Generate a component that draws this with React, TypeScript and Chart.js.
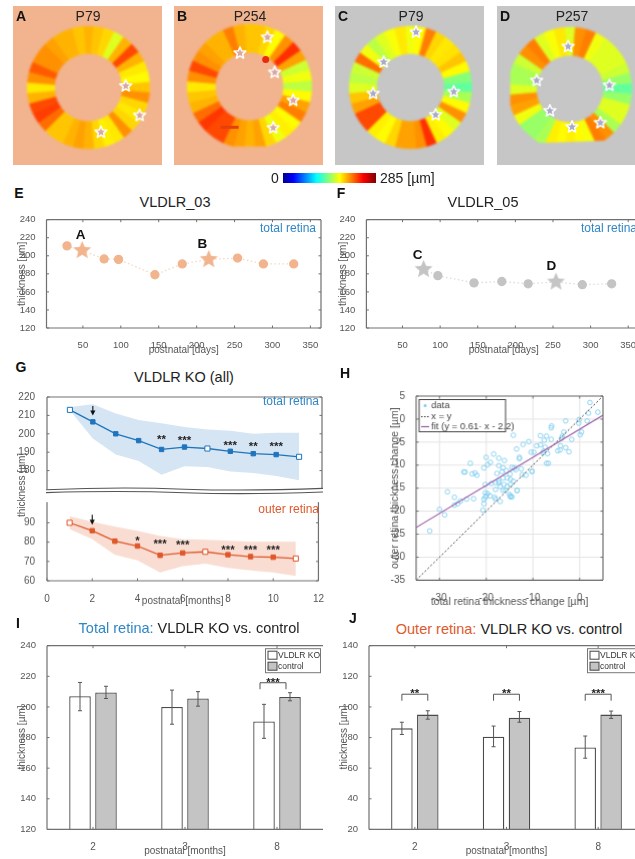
import React, { useEffect, useRef } from "react";
import { Chart, registerables } from "chart.js";

Chart.register(...registerables);

const FONT = '"Liberation Sans", Arial, sans-serif';
const GRAY = "#555555";
const BLUE = "#2f86c5";
const ORANGE = "#dd5a2c";

// ---------- data ----------
const ringA = [195, 190, 185, 165, 195, 225, 195, 180, 175, 190, 205, 185, 180, 185, 205, 180, 178, 185, 195, 200, 195, 190, 190, 215, 228, 225, 195, 180, 205, 220, 205, 205, 200, 195, 195, 190];
const ringB = [190, 190, 185, 175, 205, 232, 200, 160, 170, 155, 175, 200, 210, 175, 178, 170, 185, 200, 195, 200, 205, 225, 225, 230, 215, 195, 190, 180, 205, 225, 205, 200, 195, 195, 210, 195];
const ringC = [170, 175, 210, 185, 180, 182, 190, 175, 140, 130, 150, 175, 205, 165, 175, 178, 232, 205, 200, 200, 185, 175, 178, 225, 225, 200, 190, 165, 155, 160, 215, 170, 155, 165, 172, 180];
const ringD = [165, 205, 210, 170, 165, 165, 165, 160, 145, 130, 145, 165, 165, 150, 205, 210, 172, 175, 178, 175, 178, 150, 145, 145, 170, 200, 205, 165, 150, 150, 160, 205, 210, 165, 172, 180];

const starsAX = [116.7, 132, 89.3];
const starsAY = [80, 112.3, 130.7];
const starsBX = [97, 64.3, 105.7, 127.7, 104];
const starsBY = [22.7, 41.3, 64, 97, 129.3];
const starsCX = [81.7, 46, 34.3, 123.3, 103.3];
const starsCY = [21, 53.7, 88.3, 86.3, 111.7];
const starsDX = [71.3, 36.3, 51, 75.7, 107.3, 117.3];
const starsDY = [36.7, 74, 107.3, 125, 120.3, 79.3];

const jetStops = ["#00008f", "#0000ff", "#00ffff", "#ffff00", "#ff0000", "#800000"];
const jetPositions = [0, 0.11, 0.36, 0.61, 0.86, 1];
const colorbarMax = [285];

const daysE = [29, 49, 78, 97, 145, 181, 216, 254, 288, 328];
const thickE = [211, 206, 196.5, 196, 179, 191, 196, 197.5, 191, 191];
const starIndexE = [1, 6];
const labelsE = ["A", "B"];
const labelXE = [47, 207.5];
const labelYE = [222.7, 213.3];

const daysF = [78, 97, 145, 182, 217, 254, 289, 328];
const thickF = [185, 178, 170, 171.5, 169, 171, 168, 169];
const starIndexF = [0, 5];
const labelsF = ["C", "D"];
const labelXF = [70, 248];
const labelYF = [201, 188];

const months = [1, 2, 3, 4, 5, 6, 7, 8, 9, 10, 11];
const totalMean = [213, 206.5, 200, 196.3, 191.5, 192.8, 192, 190.5, 189.2, 188.7, 187.5];
const totalHigh = [214.5, 216, 211, 207.5, 205.7, 203.7, 202.4, 201.6, 200, 200.6, 200.6];
const totalLow = [212.7, 197.5, 188.8, 185.2, 177.7, 182.3, 182, 179.5, 178.7, 177, 174.8];
const outerMean = [90, 85.9, 80.5, 78, 73.2, 74.4, 75, 73.5, 72.5, 72.2, 71.5];
const outerHigh = [93.4, 90.5, 88, 85.8, 83.2, 81.5, 81.2, 80.7, 80.2, 80.2, 80.2];
const outerLow = [86.7, 81.5, 73.4, 70.6, 64.3, 67.6, 68.9, 66.6, 65.3, 64.3, 62.5];
const hollowMonths = [1, 7, 11];

const sigTotalX = [5, 6, 8, 9, 10];
const sigTotalY = [198, 197.6, 194.8, 194.3, 194.6];
const sigTotalText = ["**", "***", "***", "**", "***"];
const sigOuterX = [4, 5, 6, 8, 9, 10];
const sigOuterY = [81.9, 80.6, 80, 77.2, 77, 77.2];
const sigOuterText = ["*", "***", "***", "***", "***", "***"];

const totalChange = [2.2, 3.9, 1.9, 1.6, -0.1, -0.2, 0.4, 0.1, -1.7, -3, -3.4, -3.7, -3.9, -6, -6.1, -8.4, -7.1, -7.6, -6.1, -14.2, -10.9, -12.1, -13.5, -9.2, -8.4, -7.4, -10.4, -9.8, -7.7, -7.9, -6.9, -4.1, -3, -4.7, -4.2, -2.3, -7.1, -6.7, -12.9, -12.9, -10.2, -14, -12.5, -18.4, -20, -17.3, -16.1, -19.1, -19.7, -20.5, -17.3, -16.4, -23.4, -24.5, -24.8, -23, -22.4, -22, -17.7, -16.6, -15.7, -14.5, -13.7, -14.9, -20.2, -18, -17.3, -16.4, -15.5, -14.8, -17, -16.2, -15.5, -14.8, -14.2, -18, -16.4, -15.9, -13.4, -20.2, -19.7, -19.2, -20, -20.5, -20.2, -18.2, -18, -17, -15, -14.8, -14.5, -20.5, -20.7, -22.7, -24.2, -26.8, -25.5, -26.8, -26.1, -28.3, -30, -28.9, -32.1, -17.3, -18.9, -11.5, -10.2, -12.3, -13.4, -14.8];
const outerChange = [3.6, 1.5, 1.3, -0.4, -0.1, -0.9, -2.8, -3.4, -4.4, -0.4, -2.8, -3.7, -4.2, -1.5, -1.9, -3.6, -3.7, -4.6, -4.4, -3.5, -4.9, -5.5, -6.5, -5.8, -5.6, -6.1, -7.2, -7.2, -7, -7.3, -7.5, -5.8, -6.2, -6.9, -6.7, -7.1, -9.6, -9.6, -8.3, -8.6, -11.3, -10.6, -10.8, -7.6, -8.3, -8.5, -9, -9.4, -9.9, -10.6, -10.1, -10.6, -9.6, -11.5, -11.5, -11.9, -11.7, -12.2, -11.8, -11.4, -11.2, -10.5, -11, -11.9, -14.2, -13.8, -13.5, -12.8, -12.8, -13.1, -14.6, -14.2, -14.6, -14.2, -13.5, -15.3, -15.5, -15.5, -15.5, -16, -16.2, -16.7, -16.7, -17.4, -17, -17, -17.4, -17.9, -16.4, -16.9, -16.9, -18.4, -19.8, -17.3, -17.4, -17, -17.8, -18.7, -18.4, -15.8, -19.6, -20.8, -24.3, -13.9, -14, -12.2, -11.4, -12.1, -15.5, -16.7];
const diagX = [-35, 5];
const diagY = [-35, 5];
const fitX = [-35, 5];
const fitY = [-23.55, 0.85];

const barCategories = ["2", "3", "8"];
const totalKO = [207, 200, 190.5];
const totalKOLow = [197.5, 188.7, 179.5];
const totalKOHigh = [216, 211, 201.7];
const totalCtrl = [209.5, 205.5, 206.5];
const totalCtrlLow = [205.5, 200.5, 204];
const totalCtrlHigh = [213.5, 210, 209.3];
const outerKO = [86, 80.5, 73.5];
const outerKOLow = [82, 74, 66.5];
const outerKOHigh = [90, 87.5, 81];
const outerCtrl = [95, 93, 95];
const outerCtrlLow = [92, 90, 92.5];
const outerCtrlHigh = [97.5, 97, 97.3];
const bracketsTotal = [2];
const bracketTextTotal = ["***"];
const bracketsOuter = [0, 1, 2];
const bracketTextOuter = ["**", "**", "***"];

// ---------- helpers ----------
function jet(v: number, max = 285) {
  const t = Math.min(1, Math.max(0, v / max));
  let i = 0;
  while (i < jetPositions.length - 2 && t > jetPositions[i + 1]) i++;
  const f = (t - jetPositions[i]) / (jetPositions[i + 1] - jetPositions[i]);
  const hex = (s: string, k: number) => parseInt(s.slice(1 + k * 2, 3 + k * 2), 16);
  const c = [0, 1, 2].map((k) => Math.round(hex(jetStops[i], k) + f * (hex(jetStops[i + 1], k) - hex(jetStops[i], k))));
  return `rgb(${c[0]},${c[1]},${c[2]})`;
}

function starImage(r: number, fill: string, stroke: string | null, lw: number) {
  const pad = 2 + lw;
  const c = document.createElement("canvas");
  c.width = c.height = Math.ceil(2 * (r + pad));
  const g = c.getContext("2d")!;
  const m = c.width / 2;
  g.beginPath();
  for (let i = 0; i < 10; i++) {
    const rr = i % 2 === 0 ? r : r * 0.45;
    const a = -Math.PI / 2 + (i * Math.PI) / 5;
    const x = m + rr * Math.cos(a);
    const y = m + rr * Math.sin(a);
    if (i === 0) g.moveTo(x, y);
    else g.lineTo(x, y);
  }
  g.closePath();
  g.fillStyle = fill;
  g.fill();
  if (stroke) {
    g.lineJoin = "round";
    g.strokeStyle = stroke;
    g.lineWidth = lw;
    g.stroke();
  }
  return c;
}

type Sides = { left?: boolean; right?: boolean; top?: boolean; bottom?: boolean };

function boxAxes(sides: Sides, gridLines = false) {
  return {
    id: "boxAxes",
    beforeDatasetsDraw(chart: any) {
      if (!gridLines) return;
      const { ctx, chartArea: a, scales } = chart;
      ctx.save();
      ctx.strokeStyle = "#e4e4e4";
      ctx.lineWidth = 1;
      scales.x.ticks.forEach((_: any, i: number) => {
        const p = scales.x.getPixelForTick(i);
        ctx.beginPath();
        ctx.moveTo(p, a.top);
        ctx.lineTo(p, a.bottom);
        ctx.stroke();
      });
      scales.y.ticks.forEach((_: any, i: number) => {
        const p = scales.y.getPixelForTick(i);
        ctx.beginPath();
        ctx.moveTo(a.left, p);
        ctx.lineTo(a.right, p);
        ctx.stroke();
      });
      ctx.restore();
    },
    afterDatasetsDraw(chart: any) {
      const { ctx, chartArea: a, scales } = chart;
      ctx.save();
      ctx.strokeStyle = "#707070";
      ctx.lineWidth = 1.2;
      ctx.beginPath();
      if (sides.left) { ctx.moveTo(a.left, a.top); ctx.lineTo(a.left, a.bottom); }
      if (sides.right) { ctx.moveTo(a.right, a.top); ctx.lineTo(a.right, a.bottom); }
      if (sides.top) { ctx.moveTo(a.left, a.top); ctx.lineTo(a.right, a.top); }
      if (sides.bottom) { ctx.moveTo(a.left, a.bottom); ctx.lineTo(a.right, a.bottom); }
      ctx.stroke();
      const len = 2.5;
      ctx.lineWidth = 1;
      ctx.beginPath();
      if (scales.x.options.display !== false) {
        scales.x.ticks.forEach((_: any, i: number) => {
          const p = scales.x.getPixelForTick(i);
          if (sides.bottom) { ctx.moveTo(p, a.bottom); ctx.lineTo(p, a.bottom - len); }
          if (sides.top) { ctx.moveTo(p, a.top); ctx.lineTo(p, a.top + len); }
        });
      }
      scales.y.ticks.forEach((_: any, i: number) => {
        const p = scales.y.getPixelForTick(i);
        if (sides.left) { ctx.moveTo(a.left, p); ctx.lineTo(a.left + len, p); }
        if (sides.right) { ctx.moveTo(a.right, p); ctx.lineTo(a.right - len, p); }
      });
      ctx.stroke();
      ctx.restore();
    },
  };
}

type Frame = { left: number; top: number; width: number; height: number; gutterL: number; gutterB: number; padT: number; padR: number };

function frame(plotL: number, plotT: number, plotW: number, plotH: number, gutterL: number, gutterB: number): Frame {
  const padT = 6;
  const padR = 6;
  return { left: plotL - gutterL, top: plotT - padT, width: gutterL + plotW + padR, height: padT + plotH + gutterB, gutterL, gutterB, padT, padR };
}

function axisTitle(text: string, size = 10) {
  return { display: true, text, color: GRAY, font: { family: FONT, size }, padding: 0 };
}

function tickStyle(size: number, padding: number) {
  return { color: GRAY, font: { family: FONT, size }, padding, autoSkip: false, maxRotation: 0, includeBounds: false };
}

function baseOptions(f: Frame) {
  return {
    responsive: false,
    animation: false as const,
    devicePixelRatio: 1,
    events: [],
    layout: { padding: { top: f.padT, right: f.padR, left: 0, bottom: 0 } },
    plugins: { legend: { display: false }, tooltip: { enabled: false } },
  };
}

function xFit(f: Frame) {
  return (s: any) => { s.height = f.gutterB; };
}
function yFit(f: Frame) {
  return (s: any) => { s.width = f.gutterL; };
}

// ---------- ring panels ----------
function ringConfig(values: number[], holeRatio: number, clip?: (g: CanvasRenderingContext2D) => void) {
  return {
    type: "doughnut",
    data: {
      labels: values.map((_, i) => `${i * 10}°`),
      datasets: [{
        data: values.map(() => 1),
        backgroundColor: values.map((v) => jet(v)),
        borderColor: values.map((v) => jet(v)),
        borderWidth: 0.8,
      }],
    },
    options: {
      responsive: false,
      animation: false,
      devicePixelRatio: 1,
      events: [],
      cutout: `${holeRatio * 100}%`,
      rotation: -5,
      layout: { padding: 4 },
      plugins: { legend: { display: false }, tooltip: { enabled: false } },
    },
    plugins: [{
      id: "ringClip",
      beforeDatasetsDraw(chart: any) {
        chart.ctx.save();
        if (clip) clip(chart.ctx);
      },
      afterDatasetsDraw(chart: any) {
        chart.ctx.restore();
      },
    }],
  };
}

function starOverlayConfig(xs: number[], ys: number[], fill: string, w: number, h: number, hot?: any[]) {
  const img = starImage(6.2, fill, "#ffffff", 1.5);
  return {
    type: "scatter",
    data: {
      datasets: [
        { data: xs.map((x, i) => ({ x, y: ys[i] })), pointStyle: img, pointRadius: 6 },
        ...(hot || []),
      ],
    },
    options: {
      responsive: false,
      animation: false,
      devicePixelRatio: 1,
      events: [],
      layout: { padding: 0 },
      plugins: { legend: { display: false }, tooltip: { enabled: false } },
      scales: {
        x: { display: false, min: 0, max: w },
        y: { display: false, min: 0, max: h, reverse: true },
      },
    },
  };
}

function colorbarConfig() {
  return {
    type: "bar",
    data: {
      labels: ["µm"],
      datasets: [{
        data: colorbarMax,
        barPercentage: 1,
        categoryPercentage: 1,
        backgroundColor: (c: any) => {
          const a = c.chart.chartArea;
          if (!a) return jetStops[0];
          const g = c.chart.ctx.createLinearGradient(a.left, 0, a.right, 0);
          jetStops.forEach((s, i) => g.addColorStop(jetPositions[i], s));
          return g;
        },
      }],
    },
    options: {
      indexAxis: "y",
      responsive: false,
      animation: false,
      devicePixelRatio: 1,
      events: [],
      layout: { padding: 0 },
      plugins: { legend: { display: false }, tooltip: { enabled: false } },
      scales: { x: { display: false, min: 0, max: colorbarMax[0] }, y: { display: false } },
    },
  };
}

// ---------- E / F ----------
function timeConfig(f: Frame, xs: number[], ys: number[], starIdx: number[], labels: string[], lx: number[], ly: number[], color: string, dash: string, xMin: number, xMax: number) {
  const star = starImage(9.5, color, null, 0);
  return {
    type: "line",
    data: {
      datasets: [{
        data: xs.map((x, i) => ({ x, y: ys[i] })),
        borderColor: dash,
        borderWidth: 1.3,
        borderDash: [1.5, 2.5],
        backgroundColor: color,
        pointBackgroundColor: color,
        pointBorderColor: color,
        pointRadius: 4,
        pointStyle: xs.map((_, i) => (starIdx.includes(i) ? star : "circle")),
        tension: 0,
      }],
    },
    options: {
      ...baseOptions(f),
      scales: {
        x: {
          type: "linear", min: xMin, max: xMax, afterFit: xFit(f),
          grid: { display: false }, border: { display: false },
          ticks: { ...tickStyle(9.5, 3.5), stepSize: 50 },
          title: axisTitle("postnatal [days]"),
        },
        y: {
          min: 120, max: 240, afterFit: yFit(f),
          grid: { display: false }, border: { display: false },
          ticks: { ...tickStyle(9.5, 3), stepSize: 20 },
          title: axisTitle("thickness [µm]"),
        },
      },
    },
    plugins: [
      boxAxes({ left: true, bottom: true, top: true, right: true }),
      {
        id: "pointLabels",
        afterDatasetsDraw(chart: any) {
          const { ctx, scales } = chart;
          ctx.save();
          ctx.fillStyle = "#111111";
          ctx.font = `bold 13.5px ${FONT}`;
          ctx.textAlign = "center";
          ctx.textBaseline = "middle";
          labels.forEach((t, i) => ctx.fillText(t, scales.x.getPixelForValue(lx[i]), scales.y.getPixelForValue(ly[i])));
          ctx.restore();
        },
      },
    ],
  };
}

// ---------- G ----------
function sigPlugin(xs: number[], ys: number[], text: string[]) {
  return {
    id: "sigMarks",
    afterDatasetsDraw(chart: any) {
      const { ctx, scales } = chart;
      ctx.save();
      ctx.fillStyle = "#222222";
      ctx.font = `bold 11.5px ${FONT}`;
      ctx.textAlign = "center";
      ctx.textBaseline = "alphabetic";
      xs.forEach((x, i) => ctx.fillText(text[i], scales.x.getPixelForValue(x), scales.y.getPixelForValue(ys[i]) + 6));
      ctx.restore();
    },
  };
}

function arrowPlugin(x: number, y0: number, y1: number) {
  return {
    id: "arrow",
    afterDatasetsDraw(chart: any) {
      const { ctx, scales } = chart;
      const px = scales.x.getPixelForValue(x);
      const a = scales.y.getPixelForValue(y0);
      const b = scales.y.getPixelForValue(y1);
      ctx.save();
      ctx.strokeStyle = "#111111";
      ctx.fillStyle = "#111111";
      ctx.lineWidth = 1.1;
      ctx.beginPath();
      ctx.moveTo(px, a);
      ctx.lineTo(px, b - 3);
      ctx.stroke();
      ctx.beginPath();
      ctx.moveTo(px - 2.6, b - 5);
      ctx.lineTo(px + 2.6, b - 5);
      ctx.lineTo(px, b);
      ctx.closePath();
      ctx.fill();
      ctx.restore();
    },
  };
}

function bandConfig(f: Frame, mean: number[], high: number[], low: number[], line: string, band: string, yMin: number, yMax: number, isBottom: boolean, extra: any[]) {
  const pts = (v: number[]) => months.map((x, i) => ({ x, y: v[i] }));
  return {
    type: "line",
    data: {
      datasets: [
        {
          data: pts(mean),
          borderColor: line,
          borderWidth: 1.3,
          pointStyle: "rect",
          pointRadius: months.map((m) => (hollowMonths.includes(m) ? 3.6 : 3.1)),
          pointBorderWidth: 1,
          pointBorderColor: line,
          pointBackgroundColor: months.map((m) => (hollowMonths.includes(m) ? "#ffffff" : line)),
          tension: 0,
          fill: false,
        },
        { data: pts(high), borderWidth: 0, pointRadius: 0, backgroundColor: band, fill: "+1", tension: 0 },
        { data: pts(low), borderWidth: 0, pointRadius: 0, fill: false, tension: 0 },
      ],
    },
    options: {
      ...baseOptions(f),
      layout: { padding: { top: f.padT, right: f.padR, left: 0, bottom: isBottom ? 0 : f.gutterB } },
      scales: {
        x: {
          type: "linear", min: 0, max: 12, display: isBottom, afterFit: xFit(f),
          grid: { display: false }, border: { display: false },
          ticks: { ...tickStyle(10, 4), stepSize: 2 },
          title: axisTitle("postnatal [months]"),
        },
        y: {
          min: yMin, max: yMax, afterFit: yFit(f),
          afterBuildTicks: (s: any) => {
            s.ticks = s.ticks.filter((t: any) => (isBottom ? t.value <= 90 : t.value >= 180));
          },
          grid: { display: false }, border: { display: false },
          ticks: { ...tickStyle(10, 4), stepSize: 10 },
        },
      },
    },
    plugins: [
      boxAxes(isBottom ? { left: true, right: true, bottom: true } : { left: true, right: true, top: true }),
      ...extra,
    ],
  };
}

const wavePlugin = {
  id: "axisBreak",
  afterDatasetsDraw(chart: any) {
    const { ctx, chartArea: a } = chart;
    const w = a.right - a.left;
    ctx.save();
    ctx.strokeStyle = "#555555";
    ctx.lineWidth = 1.1;
    [a.bottom, a.bottom + 3.6].forEach((y: number, k: number) => {
      ctx.beginPath();
      ctx.moveTo(a.left - 1, y + (k ? 0 : 0.8));
      ctx.bezierCurveTo(a.left + w * 0.2, y - 1.6, a.left + w * 0.35, y - 1.4, a.left + w * 0.5, y + 0.2);
      ctx.bezierCurveTo(a.left + w * 0.68, y + 1.8, a.left + w * 0.85, y + 1, a.right + 1, y - 0.6);
      ctx.stroke();
    });
    ctx.restore();
  },
};

// ---------- H ----------
const scatterLegend = {
  id: "scatterLegend",
  afterDatasetsDraw(chart: any) {
    const { ctx, chartArea: a } = chart;
    const x = a.left + 3;
    const y = a.top + 3.5;
    ctx.save();
    ctx.fillStyle = "#ffffff";
    ctx.strokeStyle = "#444444";
    ctx.lineWidth = 1;
    ctx.fillRect(x, y, 86, 32);
    ctx.strokeRect(x, y, 86, 32);
    ctx.font = `9.5px ${FONT}`;
    ctx.textBaseline = "middle";
    ctx.fillStyle = "#444444";
    ctx.fillText("data", x + 12, y + 6);
    ctx.fillText("x = y", x + 12, y + 17);
    ctx.fillText("fit (y = 0.61· x - 2.2)", x + 12, y + 27);
    ctx.fillStyle = "#7fcdee";
    ctx.beginPath();
    ctx.arc(x + 6, y + 6, 1.5, 0, Math.PI * 2);
    ctx.fill();
    ctx.strokeStyle = "#333333";
    ctx.setLineDash([1.5, 1.5]);
    ctx.beginPath();
    ctx.moveTo(x + 2, y + 17);
    ctx.lineTo(x + 10, y + 17);
    ctx.stroke();
    ctx.setLineDash([]);
    ctx.strokeStyle = "#9c5aa8";
    ctx.lineWidth = 1.2;
    ctx.beginPath();
    ctx.moveTo(x + 2, y + 27);
    ctx.lineTo(x + 10, y + 27);
    ctx.stroke();
    ctx.restore();
  },
};

function scatterConfig(f: Frame) {
  return {
    type: "scatter",
    data: {
      datasets: [
        {
          data: fitX.map((x, i) => ({ x, y: fitY[i] })),
          showLine: true, pointRadius: 0, borderColor: "#9c5aa8", borderWidth: 1.2,
        },
        {
          data: diagX.map((x, i) => ({ x, y: diagY[i] })),
          showLine: true, pointRadius: 0, borderColor: "#444444", borderWidth: 1, borderDash: [2, 2],
        },
        {
          data: totalChange.map((x, i) => ({ x, y: outerChange[i] })),
          pointRadius: 2.3, pointBorderWidth: 0.9, pointBorderColor: "#82cfee", pointBackgroundColor: "rgba(255,255,255,0)",
        },
      ],
    },
    options: {
      ...baseOptions(f),
      scales: {
        x: {
          type: "linear", min: -35, max: 5, afterFit: xFit(f),
          grid: { display: false }, border: { display: false },
          afterBuildTicks: (s: any) => { s.ticks = s.ticks.filter((t: any) => t.value % 10 === 0); },
          ticks: { ...tickStyle(10, 4), stepSize: 5 },
          title: axisTitle("total retina thickness change [µm]", 10.5),
        },
        y: {
          min: -35, max: 5, afterFit: yFit(f),
          grid: { display: false }, border: { display: false },
          ticks: { ...tickStyle(10, 3), stepSize: 5, includeBounds: true },
          title: axisTitle("outer retina thickness change [µm]", 10.5),
        },
      },
    },
    plugins: [boxAxes({ left: true, right: true, top: true, bottom: true }, true), scatterLegend],
  };
}

// ---------- I / J ----------
function barConfig(f: Frame, ko: number[], koLow: number[], koHigh: number[], ctrl: number[], ctrlLow: number[], ctrlHigh: number[], yMin: number, yMax: number, brackets: number[], bracketText: string[], bracketBase: number, bracketDx: number) {
  return {
    type: "bar",
    data: {
      labels: barCategories,
      datasets: [
        { label: "VLDLR KO", data: ko, backgroundColor: "#ffffff", borderColor: "#4a4a4a", borderWidth: 1.3, barPercentage: 0.83, categoryPercentage: 0.565 },
        { label: "control", data: ctrl, backgroundColor: "#c4c4c4", borderColor: "#4a4a4a", borderWidth: 1.3, barPercentage: 0.83, categoryPercentage: 0.565 },
      ],
    },
    options: {
      ...baseOptions(f),
      scales: {
        x: {
          afterFit: xFit(f),
          grid: { display: false }, border: { display: false },
          ticks: { ...tickStyle(10, 4) },
          title: axisTitle("postnatal [months]"),
        },
        y: {
          min: yMin, max: yMax, afterFit: yFit(f),
          grid: { display: false }, border: { display: false },
          ticks: { ...tickStyle(9.5, 3), stepSize: 20 },
          title: axisTitle("thickness [µm]"),
        },
      },
    },
    plugins: [
      boxAxes({ left: true, bottom: true, top: true }),
      {
        id: "errorsAndLegend",
        afterDatasetsDraw(chart: any) {
          const { ctx, scales, chartArea: a } = chart;
          const y = scales.y;
          ctx.save();
          ctx.strokeStyle = "#555555";
          ctx.lineWidth = 1;
          [[koLow, koHigh], [ctrlLow, ctrlHigh]].forEach(([lo, hi], d) => {
            chart.getDatasetMeta(d).data.forEach((bar: any, i: number) => {
              const t = y.getPixelForValue(hi[i]);
              const b = y.getPixelForValue(lo[i]);
              ctx.beginPath();
              ctx.moveTo(bar.x, t);
              ctx.lineTo(bar.x, b);
              ctx.moveTo(bar.x - 2, t);
              ctx.lineTo(bar.x + 2, t);
              ctx.moveTo(bar.x - 2, b);
              ctx.lineTo(bar.x + 2, b);
              ctx.stroke();
            });
          });
          // significance brackets
          brackets.forEach((idx, k) => {
            const l = chart.getDatasetMeta(0).data[idx].x + bracketDx;
            const r = chart.getDatasetMeta(1).data[idx].x + bracketDx;
            const top = y.getPixelForValue(bracketBase);
            ctx.strokeStyle = "#555555";
            ctx.beginPath();
            ctx.moveTo(l, top + 6.5);
            ctx.lineTo(l, top);
            ctx.lineTo(r, top);
            ctx.lineTo(r, top + 6.5);
            ctx.stroke();
            ctx.fillStyle = "#222222";
            ctx.font = `bold 11.5px ${FONT}`;
            ctx.textAlign = "center";
            ctx.textBaseline = "alphabetic";
            ctx.fillText(bracketText[k], (l + r) / 2, top + 3);
          });
          // legend
          const lx = a.left + 218.5;
          const ly = a.top + 3;
          ctx.fillStyle = "#ffffff";
          ctx.strokeStyle = "#777777";
          ctx.fillRect(lx, ly, 55, 24);
          ctx.strokeRect(lx, ly, 55, 24);
          ctx.strokeStyle = "#444444";
          ctx.fillRect(lx + 2.5, ly + 2.5, 9, 8);
          ctx.strokeRect(lx + 2.5, ly + 2.5, 9, 8);
          ctx.fillStyle = "#c4c4c4";
          ctx.fillRect(lx + 2.5, ly + 13.5, 9, 8);
          ctx.strokeRect(lx + 2.5, ly + 13.5, 9, 8);
          ctx.fillStyle = "#333333";
          ctx.font = `8.5px ${FONT}`;
          ctx.textAlign = "left";
          ctx.textBaseline = "middle";
          ctx.fillText("VLDLR KO", lx + 12.5, ly + 7);
          ctx.fillText("control", lx + 12.5, ly + 18);
          ctx.restore();
        },
      },
    ],
  };
}

// ---------- components ----------
function ChartBox({ left, top, width, height, build, blur }: { left: number; top: number; width: number; height: number; build: () => any; blur?: number }) {
  const ref = useRef<HTMLCanvasElement>(null);
  useEffect(() => {
    const chart = new Chart(ref.current!, build());
    return () => chart.destroy();
  }, []);
  return (
    <div style={{ position: "absolute", left, top, width, height, filter: blur ? `blur(${blur}px)` : undefined }}>
      <canvas ref={ref} width={width} height={height} style={{ display: "block", width, height }} />
    </div>
  );
}

function T({ x, y, size, color = "#222222", bold, anchor = "center", rotate, children }: any) {
  const tx = anchor === "center" ? "-50%" : anchor === "end" ? "-100%" : "0";
  return (
    <span style={{
      position: "absolute", left: x, top: y, fontFamily: FONT, fontSize: size, color,
      fontWeight: bold ? 700 : 400, whiteSpace: "nowrap", lineHeight: 1,
      transform: `translate(${tx}, -50%)${rotate ? ` rotate(${rotate}deg)` : ""}`,
    }}>{children}</span>
  );
}

function RingPanel({ panelLeft, bg, cx, cy, R, hole, values, title, letter, titleX, starsX, starsY, starFill, clip, hot, panelW }: any) {
  const top = 6;
  const h = 159;
  const pad = 4;
  return (
    <>
      <div style={{ position: "absolute", left: panelLeft, top, width: panelW, height: h, background: bg }} />
      <ChartBox left={cx - R - pad} top={cy - R - pad} width={2 * (R + pad)} height={2 * (R + pad)} blur={1.3}
        build={() => ringConfig(values, hole / R, clip ? (g) => clip(g, cx - R - pad, cy - R - pad) : undefined)} />
      <ChartBox left={panelLeft} top={top} width={panelW} height={h}
        build={() => starOverlayConfig(starsX, starsY, starFill, panelW, h, hot)} />
      <T x={titleX} y={15.5} size={14}>{title}</T>
      <T x={panelLeft + 8} y={15.5} size={14} bold color="#111111">{letter}</T>
    </>
  );
}

const hotSpotsB = [
  { data: [{ x: 95, y: 49 }], pointStyle: "circle", pointRadius: 3.5, pointBorderWidth: 0, pointBackgroundColor: "#ea2a0c" },
  { data: [{ x: 52, y: 128.7 }], pointStyle: "line", pointRadius: 9, pointBorderWidth: 3, pointBorderColor: "#e5400c" },
];

export default function App() {
  const fE = frame(46.5, 217, 274.5, 111, 30.5, 28);
  const fF = frame(366.4, 217, 275, 111, 29.4, 28);
  const fGu = { ...frame(46.7, 392.7, 275.3, 102.3, 31, 6) };
  const fGl = frame(46.7, 498, 275.3, 82.7, 31, 26);
  const fH = frame(416, 393.3, 186.7, 186.7, 27, 27.7);
  const fI = frame(46.7, 643, 276, 186.7, 31, 27.6);
  const fJ = frame(369, 643, 275, 186.7, 31, 27.6);
  return (
    <div style={{ position: "absolute", left: 0, top: 0, width: 635, height: 859, overflow: "hidden", background: "#ffffff" }}>
      <RingPanel panelLeft={13} panelW={149} bg="#f1b48f" cx={88.7} cy={87.7} R={61.5} hole={34.3} values={ringA}
        title="P79" letter="A" titleX={88} starsX={starsAX} starsY={starsAY} starFill="#d8a8a4" />
      <RingPanel panelLeft={174} panelW={149} bg="#f1b48f" cx={249} cy={86} R={62.5} hole={34.5} values={ringB}
        title="P254" letter="B" titleX={250} starsX={starsBX} starsY={starsBY} starFill="#d8a8a4" hot={hotSpotsB}
        clip={(g: any, ox: number, oy: number) => { g.beginPath(); g.rect(0, 0, 200, 146 - oy); g.clip(); }} />
      <RingPanel panelLeft={335} panelW={149} bg="#c6c6c6" cx={410} cy={87} R={61.5} hole={34.3} values={ringC}
        title="P79" letter="C" titleX={411} starsX={starsCX} starsY={starsCY} starFill="#a9a9c8" />
      <RingPanel panelLeft={497} panelW={138} bg="#c6c6c6" cx={569.7} cy={89.3} R={62} hole={34} values={ringD}
        title="P257" letter="D" titleX={572} starsX={starsDX} starsY={starsDY} starFill="#a9a9c8"
        clip={(g: any, ox: number, oy: number) => {
          g.beginPath();
          g.moveTo(510 - ox, 0);
          g.lineTo(200, 0);
          g.lineTo(200, 137.2 - oy);
          g.lineTo(538.3 - ox, 143.3 - oy);
          g.lineTo(510 - ox, 119.3 - oy);
          g.closePath();
          g.clip();
        }} />

      <ChartBox left={283} top={173} width={93} height={10} build={colorbarConfig} />
      <T x={275} y={178} size={14}>0</T>
      <T x={380} y={178} size={14} anchor="start">285 [µm]</T>

      <T x={19} y={193} size={14} bold color="#111111">E</T>
      <T x={341} y={193} size={14} bold color="#111111">F</T>
      <T x={175} y={202} size={14.5}>VLDLR_03</T>
      <T x={483} y={202} size={14.5}>VLDLR_05</T>
      <ChartBox {...fE} build={() => timeConfig(fE, daysE, thickE, starIndexE, labelsE, labelXE, labelYE, "#f2b48c", "#f8d6c0", 2, 364)} />
      <ChartBox {...fF} build={() => timeConfig(fF, daysF, thickF, starIndexF, labelsF, labelXF, labelYF, "#c4c4c4", "#dcdcdc", 2, 367)} />
      <T x={260} y={228} size={12} color={BLUE} anchor="start">total retina</T>
      <T x={581} y={228} size={12} color={BLUE} anchor="start">total retina</T>

      <T x={21} y={367} size={14} bold color="#111111">G</T>
      <T x={184} y={377} size={14.5}>VLDLR KO (all)</T>
      <ChartBox {...fGu} build={() => bandConfig(fGu, totalMean, totalHigh, totalLow, "#1f75bd", "#d6e5f3", 170, 220, false, [
        sigPlugin(sigTotalX, sigTotalY, sigTotalText), arrowPlugin(2, 215.1, 209.9), wavePlugin,
      ])} />
      <ChartBox {...fGl} build={() => bandConfig(fGl, outerMean, outerHigh, outerLow, "#e0582a", "#f9ddd2", 60, 100.7, true, [
        sigPlugin(sigOuterX, sigOuterY, sigOuterText), arrowPlugin(2, 94.2, 89),
      ])} />
      <T x={319} y={401} size={12} color={BLUE} anchor="end">total retina</T>
      <T x={319} y={509} size={12} color={ORANGE} anchor="end">outer retina</T>
      <T x={21.7} y={485} size={10} color={GRAY} rotate={-90}>thickness [µm]</T>

      <T x={345} y={373} size={14} bold color="#111111">H</T>
      <ChartBox {...fH} build={() => scatterConfig(fH)} />

      <T x={18} y={623} size={14} bold color="#111111">I</T>
      <T x={353} y={618} size={14} bold color="#111111">J</T>
      <T x={189} y={628} size={14.5}><span style={{ color: BLUE }}>Total retina:</span> VLDLR KO vs. control</T>
      <T x={509} y={629} size={14.5}><span style={{ color: ORANGE }}>Outer retina:</span> VLDLR KO vs. control</T>
      <ChartBox {...fI} build={() => barConfig(fI, totalKO, totalKOLow, totalKOHigh, totalCtrl, totalCtrlLow, totalCtrlHigh, 120, 240, bracketsTotal, bracketTextTotal, 215.8, -4)} />
      <ChartBox {...fJ} build={() => barConfig(fJ, outerKO, outerKOLow, outerKOHigh, outerCtrl, outerCtrlLow, outerCtrlHigh, 20, 140, bracketsOuter, bracketTextOuter, 108.3, 0)} />
    </div>
  );
}
